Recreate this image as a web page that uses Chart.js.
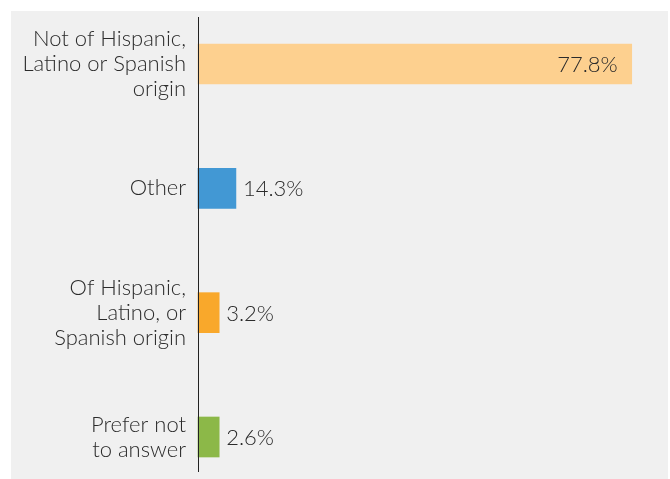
<!DOCTYPE html>
<html>
<head>
<meta charset="utf-8">
<script src="https://cdn.jsdelivr.net/npm/chart.js@4"></script>
<style>
  html, body { margin: 0; padding: 0; background: #fff; }
  #panel {
    position: absolute; left: 11px; top: 11px;
    width: 657px; height: 468px; background: #f0f0f0;
  }
</style>
</head>
<body>
<div id="panel"><canvas id="originChart" width="657" height="468"></canvas></div>
<script>
'use strict';

const categories = [
  ['Not of Hispanic,', 'Latino or Spanish', 'origin'],
  'Other',
  ['Of Hispanic,', 'Latino, or', 'Spanish origin'],
  ['Prefer not', 'to answer'],
];
// percentages printed next to the bars
const percentages = [77.8, 14.3, 3.2, 2.6];
// bar lengths as drawn in the picture (the small bars are not to scale there)
const barLengths = [77.8, 6.8, 3.8, 3.8];
const barColors = ['#fdd08f', '#4298d4', '#f9a82b', '#8cb848'];

const FONT = 'Lato, "Open Sans", sans-serif';

const valueLabels = {
  id: 'valueLabels',
  afterDatasetsDraw(chart) {
    const ctx = chart.ctx;
    const meta = chart.getDatasetMeta(0);
    ctx.save();
    ctx.font = '300 22px ' + FONT;
    ctx.fillStyle = '#2b2b2b';
    ctx.textBaseline = 'middle';
    meta.data.forEach((bar, i) => {
      const txt = percentages[i].toFixed(1) + '%';
      if (percentages[i] > 50) {
        ctx.textAlign = 'right';
        ctx.fillText(txt, bar.x - 14, bar.y + 1);
      } else {
        ctx.textAlign = 'left';
        ctx.fillText(txt, bar.x + 7, bar.y + 1);
      }
    });
    ctx.restore();
  },
};

// vertical axis line, running past the first and last rows
const axisLine = {
  id: 'axisLine',
  afterDraw(chart) {
    const ctx = chart.ctx;
    const x = Math.round(chart.scales.x.getPixelForValue(0)) + 0.5;
    ctx.save();
    ctx.strokeStyle = '#222';
    ctx.lineWidth = 1;
    ctx.beginPath();
    ctx.moveTo(x, 6);
    ctx.lineTo(x, chart.height - 7);
    ctx.stroke();
    ctx.restore();
  },
};

const ctx = document.getElementById('originChart');
new Chart(ctx, {
  type: 'bar',
  data: {
    labels: categories,
    datasets: [
      {
        data: barLengths,
        backgroundColor: barColors,
        barThickness: 40,
        clip: false,
      },
    ],
  },
  options: {
    indexAxis: 'y',
    responsive: false,
    animation: false,
    layout: { padding: { top: 53, bottom: 42, left: 0, right: 24 } },
    plugins: {
      legend: { display: false },
      tooltip: { enabled: false },
    },
    scales: {
      x: {
        display: false,
        min: 0,
        max: 80,
      },
      y: {
        offset: false,
        grid: { display: false, drawTicks: false },
        border: { display: false },
        ticks: {
          autoSkip: false,
          padding: 12,
          color: '#2b2b2b',
          font: { family: FONT, size: 22, weight: '300', lineHeight: 1.14 },
        },
        afterFit: (scale) => {
          scale.width = 187;
          scale.paddingTop = 0;
          scale.paddingBottom = 0;
        },
      },
    },
  },
  plugins: [valueLabels, axisLine],
});
</script>
</body>
</html>
